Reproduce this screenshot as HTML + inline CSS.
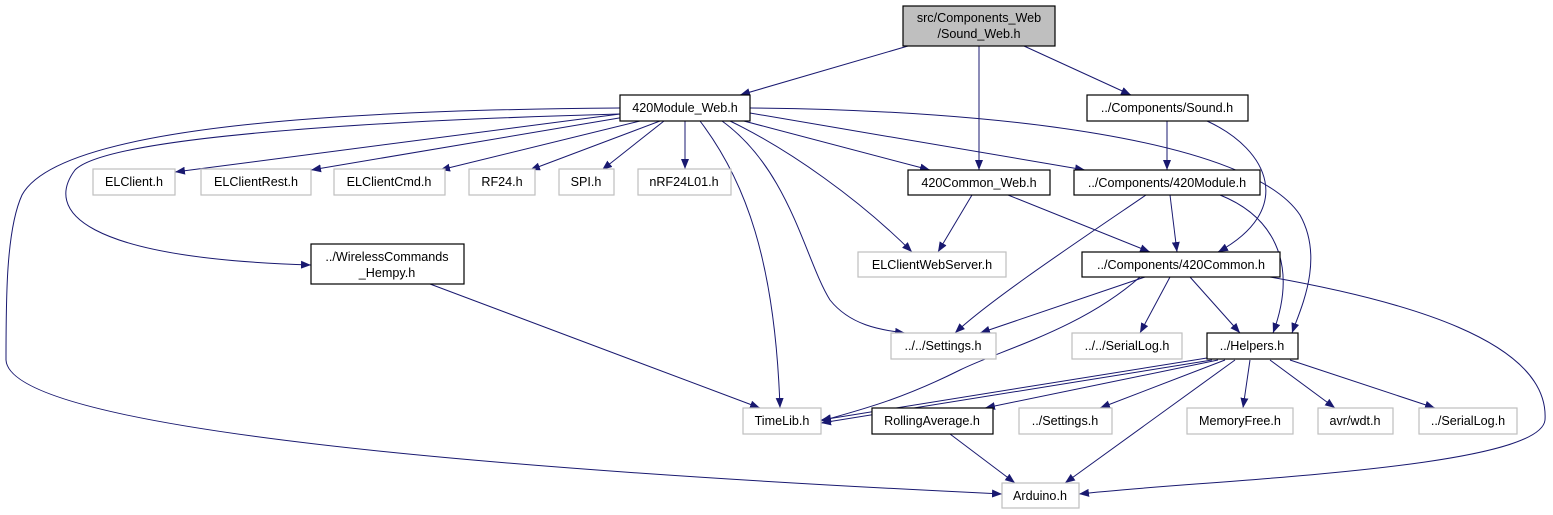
<!DOCTYPE html>
<html><head><meta charset="utf-8"><style>
html,body{margin:0;padding:0;background:#fff;}
svg{display:block;}
text{font-family:"Liberation Sans",sans-serif;font-size:12.6px;fill:#000;text-anchor:middle;}
.b{fill:#fff;stroke:#000;stroke-width:1.2;}
.g{fill:#fff;stroke:#bfbfbf;stroke-width:1.2;}
.e{fill:none;stroke:#191970;stroke-width:1;}
</style></head><body>
<svg width="1553" height="515" viewBox="0 0 1553 515" xmlns="http://www.w3.org/2000/svg">
<defs><marker id="a" markerWidth="10" markerHeight="8" refX="10" refY="4" orient="auto" markerUnits="userSpaceOnUse"><path d="M0,0 L10,4 L0,8 z" fill="#191970"/></marker></defs>
<g marker-end="url(#a)">
<path class="e" d="M908,46 L740,95"/>
<path class="e" d="M979,46 L979,170"/>
<path class="e" d="M1024,46 L1131,95"/>
<path class="e" d="M620,114 L175,172"/>
<path class="e" d="M625,117 L311,170"/>
<path class="e" d="M640,121 L440,170"/>
<path class="e" d="M660,121 L530,170"/>
<path class="e" d="M664,121 L602,170"/>
<path class="e" d="M685,121 L685,169"/>
<path class="e" d="M620,114 C400,120 110,135 75,170 C45,210 80,258 311,265"/>
<path class="e" d="M620,108 C350,110 60,125 22,195 C6,230 6,300 6,360 C10,430 500,470 1002,494"/>
<path class="e" d="M700,121 C745,180 775,260 780,408"/>
<path class="e" d="M722,121 C790,170 805,260 830,300 C850,325 880,330 905,333"/>
<path class="e" d="M730,121 C790,150 860,200 912,252"/>
<path class="e" d="M740,120 L930,170"/>
<path class="e" d="M750,113 L1085,170"/>
<path class="e" d="M750,108 C1000,110 1250,140 1300,215 C1325,260 1300,310 1292,333"/>
<path class="e" d="M1167,121 L1167,170"/>
<path class="e" d="M1207,121 C1270,150 1295,210 1218,252"/>
<path class="e" d="M972,195 L938,252"/>
<path class="e" d="M1008,195 L1150,252"/>
<path class="e" d="M1146,195 C1080,240 990,300 955,333"/>
<path class="e" d="M1170,195 L1177,252"/>
<path class="e" d="M1220,195 C1270,215 1300,260 1273,333"/>
<path class="e" d="M1145,277 L980,333"/>
<path class="e" d="M1140,277 C1080,330 1000,350 960,370 C900,400 860,410 821,421"/>
<path class="e" d="M1170,277 L1140,333"/>
<path class="e" d="M1190,277 L1240,333"/>
<path class="e" d="M1270,277 C1400,300 1550,340 1545,420 C1540,470 1200,480 1079,494"/>
<path class="e" d="M430,284 L760,408"/>
<path class="e" d="M1207,358 L821,420"/>
<path class="e" d="M1212,360 L821,423"/>
<path class="e" d="M1218,360 L985,408"/>
<path class="e" d="M1225,360 L1100,408"/>
<path class="e" d="M1235,360 L1065,483"/>
<path class="e" d="M1250,360 L1243,408"/>
<path class="e" d="M1270,360 L1335,408"/>
<path class="e" d="M1290,360 L1435,408"/>
<path class="e" d="M950,434 L1015,483"/>
</g>
<rect x="903" y="6" width="152" height="40" fill="#bfbfbf" stroke="#000" stroke-width="1.2"/>
<text x="979" y="22">src/Components_Web</text><text x="979" y="38">/Sound_Web.h</text>
<rect class="b" x="620" y="95" width="130" height="26"/><text x="685" y="112">420Module_Web.h</text>
<rect class="b" x="1087" y="95" width="161" height="26"/><text x="1167" y="112">../Components/Sound.h</text>
<rect class="g" x="93" y="169" width="82" height="26"/><text x="134" y="186">ELClient.h</text>
<rect class="g" x="201" y="169" width="110" height="26"/><text x="256" y="186">ELClientRest.h</text>
<rect class="g" x="334" y="169" width="111" height="26"/><text x="389" y="186">ELClientCmd.h</text>
<rect class="g" x="469" y="169" width="66" height="26"/><text x="502" y="186">RF24.h</text>
<rect class="g" x="559" y="169" width="55" height="26"/><text x="586" y="186">SPI.h</text>
<rect class="g" x="638" y="169" width="93" height="26"/><text x="684" y="186">nRF24L01.h</text>
<rect class="b" x="908" y="170" width="142" height="25"/><text x="979" y="187">420Common_Web.h</text>
<rect class="b" x="1074" y="170" width="186" height="25"/><text x="1167" y="187">../Components/420Module.h</text>
<rect class="b" x="311" y="244" width="153" height="40"/><text x="387" y="261">../WirelessCommands</text><text x="387" y="277">_Hempy.h</text>
<rect class="g" x="858" y="252" width="148" height="25"/><text x="932" y="269">ELClientWebServer.h</text>
<rect class="b" x="1082" y="252" width="198" height="25"/><text x="1181" y="269">../Components/420Common.h</text>
<rect class="g" x="891" y="333" width="105" height="26"/><text x="943" y="350">../../Settings.h</text>
<rect class="g" x="1072" y="333" width="110" height="26"/><text x="1127" y="350">../../SerialLog.h</text>
<rect class="b" x="1207" y="333" width="91" height="26"/><text x="1252" y="350">../Helpers.h</text>
<rect class="g" x="743" y="408" width="78" height="26"/><text x="782" y="425">TimeLib.h</text>
<rect class="b" x="872" y="408" width="121" height="26"/><text x="932" y="425">RollingAverage.h</text>
<rect class="g" x="1019" y="408" width="93" height="26"/><text x="1065" y="425">../Settings.h</text>
<rect class="g" x="1187" y="408" width="106" height="26"/><text x="1240" y="425">MemoryFree.h</text>
<rect class="g" x="1318" y="408" width="75" height="26"/><text x="1355" y="425">avr/wdt.h</text>
<rect class="g" x="1419" y="408" width="98" height="26"/><text x="1468" y="425">../SerialLog.h</text>
<rect class="g" x="1002" y="483" width="77" height="25"/><text x="1040" y="500">Arduino.h</text>
</svg>
</body></html>
